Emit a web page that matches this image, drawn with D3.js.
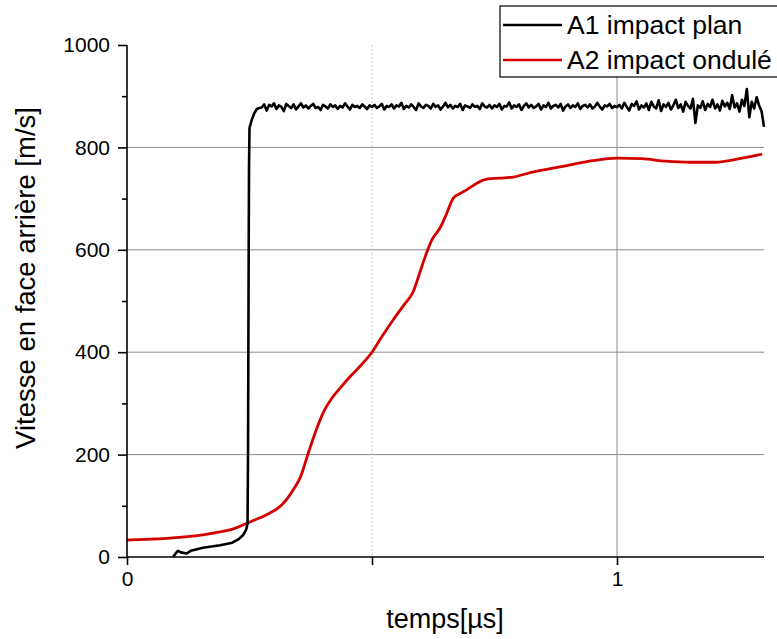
<!DOCTYPE html>
<html>
<head>
<meta charset="utf-8">
<script src="https://cdn.jsdelivr.net/npm/d3@7/dist/d3.min.js"></script>
<style>
  html, body { margin: 0; padding: 0; background: #fff; }
  svg { display: block; font-family: "Liberation Sans", Arial, sans-serif; }
</style>
</head>
<body>
<svg id="chart" width="777" height="639"></svg>
<script>
// ---------- DATA ----------
const seriesNames = ["A1 impact plan", "A2 impact ondulé"];
const seriesColors = ["#000000", "#d40000"];
const xTickLabels = [0, 1];
const xTickValues = [0, 0.5, 1];
const yMajorTicks = [0, 200, 400, 600, 800, 1000];
const yMinorTicks = [100, 300, 500, 700, 900];

// A1 : rising part (time µs, speed m/s)
const a1Rise = [
  [0.094, 0], [0.100, 8], [0.104, 12], [0.110, 9], [0.122, 7], [0.130, 12],
  [0.155, 18], [0.190, 23], [0.215, 28], [0.228, 35], [0.237, 43], [0.243, 53],
  [0.246, 65], [0.247, 200], [0.248, 500], [0.249, 760], [0.250, 838],
  [0.255, 855], [0.260, 867], [0.265, 875], [0.270, 877]
];
// A1 : plateau, sampled every 0.005 µs starting at 0.275 µs
const a1PlateauStart = 0.275;
const a1PlateauStep = 0.005;
const a1Plateau = [
  878,884,872,883,880,886,875,882,879,871,885,881,877,884,874,880,886,878,882,876,
  881,885,877,879,873,883,880,876,884,879,882,875,881,878,886,880,874,883,879,881,
  877,884,880,875,882,879,
  883,877,880,885,874,881,879,884,876,882,880,887,875,881,878,884,879,873,886,880,
  877,883,881,876,885,879,882,874,880,887,878,883,876,881,879,885,873,882,880,877,
  884,879,881,875,886,880,878,883,876,882,
  879,885,874,881,880,888,876,882,879,884,873,881,886,878,883,877,880,885,874,882,
  879,887,876,881,883,878,885,872,880,884,877,882,879,886,875,881,883,878,884,876,
  880,887,879,874,882,880,885,877,881,879,
  883,876,887,879,872,885,881,890,874,882,
  878,886,873,889,880,876,892,871,884,879,
  887,874,882,893,877,884,870,889,881,876,
  895,848,882,877,890,873,885,879,893,876,
  884,872,891,880,887,875,902,878,886,870,
  893,881,914,859,889,876,898,882,871,840
];

// A2 : (time µs, speed m/s)
const a2Data = [
  [0, 33], [0.05, 35], [0.088, 37], [0.155, 43], [0.19, 49], [0.22, 56],
  [0.245, 66], [0.27, 76], [0.292, 86], [0.31, 97], [0.319, 105], [0.33, 118],
  [0.339, 131], [0.353, 154], [0.37, 203], [0.385, 245], [0.4, 281], [0.418, 310],
  [0.435, 330], [0.455, 352], [0.478, 375], [0.5, 400], [0.52, 430], [0.543, 463],
  [0.565, 492], [0.584, 518], [0.594, 545], [0.604, 574], [0.613, 598], [0.622, 619],
  [0.639, 643], [0.652, 670], [0.666, 701], [0.68, 710], [0.693, 717], [0.714, 730],
  [0.734, 738], [0.76, 740], [0.788, 742], [0.82, 750], [0.85, 756], [0.9, 765],
  [0.95, 774], [1.0, 779], [1.05, 778], [1.1, 773], [1.15, 771], [1.2, 771],
  [1.25, 778], [1.296, 787]
];

// ---------- BUILD ----------
const a1Data = a1Rise.concat(a1Plateau.map((v, i) => [a1PlateauStart + i * a1PlateauStep, v]));

const svg = d3.select("#chart");
const pLeft = 127, pRight = 764, pTop = 45, pBottom = 557;

const x = d3.scaleLinear().domain([0, 1.3]).range([pLeft, pRight]);
const y = d3.scaleLinear().domain([0, 1000]).range([pBottom, pTop]);

// grid lines
const grid = svg.append("g");
grid.selectAll("line.h").data([200, 400, 600, 800]).enter().append("line")
  .attr("x1", pLeft).attr("x2", pRight)
  .attr("y1", d => y(d)).attr("y2", d => y(d))
  .attr("stroke", "#8c8c8c").attr("stroke-width", 1);
grid.append("line")
  .attr("x1", x(1)).attr("x2", x(1)).attr("y1", pTop).attr("y2", pBottom)
  .attr("stroke", "#8c8c8c").attr("stroke-width", 1);
grid.append("line")
  .attr("x1", x(0.5)).attr("x2", x(0.5)).attr("y1", pTop).attr("y2", pBottom)
  .attr("stroke", "#c8c8c8").attr("stroke-width", 1).attr("stroke-dasharray", "2,2");

// series
svg.append("path").datum(a2Data)
  .attr("fill", "none").attr("stroke", seriesColors[1]).attr("stroke-width", 2.8)
  .attr("stroke-linejoin", "round")
  .attr("d", d3.line().x(d => x(d[0])).y(d => y(d[1])).curve(d3.curveMonotoneX));
svg.append("path").datum(a1Data)
  .attr("fill", "none").attr("stroke", seriesColors[0]).attr("stroke-width", 2.6)
  .attr("stroke-linejoin", "round")
  .attr("d", d3.line().x(d => x(d[0])).y(d => y(d[1])));

// axes
const yAxis = svg.append("g").attr("transform", `translate(${pLeft},0)`)
  .call(d3.axisLeft(y).tickValues(yMajorTicks).tickSize(9).tickPadding(8).tickFormat(d3.format("d")));
svg.append("g").attr("class", "minor").attr("transform", `translate(${pLeft},0)`)
  .call(d3.axisLeft(y).tickValues(yMinorTicks).tickSize(5).tickFormat(""));
const xAxis = svg.append("g").attr("transform", `translate(0,${pBottom})`)
  .call(d3.axisBottom(x).tickValues(xTickValues).tickSize(8).tickPadding(6)
    .tickFormat(d => xTickLabels.includes(d) ? d3.format("d")(d) : ""));

svg.selectAll(".domain").attr("stroke", "#000").attr("stroke-width", 1.6);
svg.select(".minor .domain").remove();
svg.selectAll(".tick line").attr("stroke", "#000").attr("stroke-width", 1.6);
svg.selectAll(".tick text").attr("font-size", 21).attr("fill", "#000")
  .attr("font-family", "Liberation Sans, Arial, sans-serif");
yAxis.select(".domain").attr("d", `M0,${pBottom}V${pTop}`);
xAxis.select(".domain").attr("d", `M${pLeft},0H${pRight}`);

// axis titles
svg.append("text")
  .attr("transform", `translate(35,278) rotate(-90)`)
  .attr("text-anchor", "middle").attr("font-size", 27.5).attr("fill", "#000")
  .text("Vitesse en face arrière [m/s]");
svg.append("text")
  .attr("x", 445).attr("y", 628)
  .attr("text-anchor", "middle").attr("font-size", 27).attr("fill", "#000")
  .text("temps[µs]");

// legend
const lg = svg.append("g");
lg.append("rect").attr("x", 500).attr("y", 6).attr("width", 290).attr("height", 71)
  .attr("fill", "#fff").attr("stroke", "#000").attr("stroke-width", 1.2);
seriesNames.forEach((name, i) => {
  const ly = 25 + i * 35;
  lg.append("line").attr("x1", 503).attr("x2", 562).attr("y1", ly).attr("y2", ly)
    .attr("stroke", seriesColors[i]).attr("stroke-width", 2.5);
  lg.append("text").attr("x", 567).attr("y", ly + 9).attr("font-size", 26.5)
    .attr("fill", "#000").text(name);
});
</script>
</body>
</html>
